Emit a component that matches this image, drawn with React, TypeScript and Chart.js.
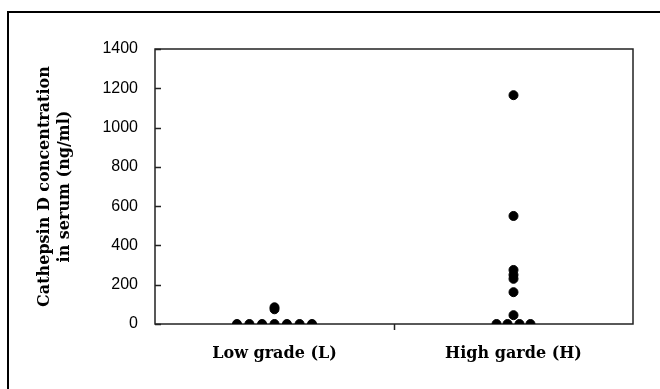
import React, { useEffect, useRef } from "react";
import { Chart, registerables } from "chart.js";

Chart.register(...registerables);

const categories = ["Low grade (L)", "High garde (H)"];
const categoryPositions = [0.5, 1.5];

const lowX = [0.343, 0.395, 0.448, 0.5, 0.552, 0.605, 0.657, 0.5, 0.5];
const lowValues = [0, 0, 0, 0, 0, 0, 0, 75, 85];

const highX = [1.5, 1.5, 1.5, 1.5, 1.5, 1.5, 1.5, 1.429, 1.475, 1.525, 1.571];
const highValues = [1165, 550, 275, 250, 230, 162, 45, 0, 0, 0, 0];

const yTicks = [0, 200, 400, 600, 800, 1000, 1200, 1400];
const yTitle = ["Cathepsin D concentration", "in serum (ng/ml)"];

const serifBold = "'DejaVu Serif', 'Liberation Serif', serif";
const sans = "'Liberation Sans', Arial, sans-serif";

const framePlugin = {
  id: "frame",
  beforeDraw(chart: any) {
    const ctx = chart.ctx;
    ctx.save();
    ctx.fillStyle = "#fff";
    ctx.fillRect(0, 0, chart.width, chart.height);
    ctx.strokeStyle = "#000";
    ctx.lineWidth = 2;
    ctx.beginPath();
    ctx.moveTo(8, chart.height);
    ctx.lineTo(8, 12);
    ctx.lineTo(chart.width, 12);
    ctx.stroke();
    ctx.restore();
  },
  beforeDatasetsDraw(chart: any) {
    const { ctx, chartArea } = chart;
    const y = chart.scales.y;
    const x = chart.scales.x;
    ctx.save();
    ctx.strokeStyle = "#222";
    ctx.lineWidth = 1.5;
    ctx.strokeRect(chartArea.left, chartArea.top, chartArea.right - chartArea.left, chartArea.bottom - chartArea.top);
    ctx.beginPath();
    yTicks.forEach((v) => {
      const py = Math.round(y.getPixelForValue(v)) + 0.5;
      ctx.moveTo(chartArea.left, py);
      ctx.lineTo(chartArea.left + 6, py);
    });
    const px = Math.round(x.getPixelForValue(1)) + 0.5;
    ctx.moveTo(px, chartArea.bottom);
    ctx.lineTo(px, chartArea.bottom + 6);
    ctx.stroke();
    ctx.restore();
  },
};

export default function App() {
  const ref = useRef<HTMLCanvasElement | null>(null);
  useEffect(() => {
    if (!ref.current) return;
    const chart = new Chart(ref.current, {
      type: "scatter",
      data: {
        datasets: [
          {
            label: "Low",
            data: lowValues.map((v, i) => ({ x: lowX[i], y: v })),
            backgroundColor: "#000",
            borderColor: "#000",
            pointRadius: 4.5,
            pointHoverRadius: 4.5,
          },
          {
            label: "High",
            data: highValues.map((v, i) => ({ x: highX[i], y: v })),
            backgroundColor: "#000",
            borderColor: "#000",
            pointRadius: 4.5,
            pointHoverRadius: 4.5,
          },
        ],
      },
      options: {
        animation: false,
        responsive: false,
        events: [],
        layout: { padding: { left: 10, top: 49, right: 27, bottom: 0 } },
        plugins: { legend: { display: false }, tooltip: { enabled: false } },
        scales: {
          x: {
            type: "linear",
            min: 0,
            max: 2,
            afterBuildTicks: (scale: any) => {
              scale.ticks = categoryPositions.map((v) => ({ value: v }));
            },
            afterFit: (scale: any) => {
              scale.height = 389 - 324;
            },
            grid: { display: false, drawTicks: false },
            border: { display: false },
            ticks: {
              padding: 20,
              color: "#000",
              font: { family: serifBold, size: 16, weight: "bold" },
              callback: (v: any) => {
                const i = categoryPositions.indexOf(Number(v));
                return i >= 0 ? categories[i] : "";
              },
            },
          },
          y: {
            min: 0,
            max: 1400,
            afterBuildTicks: (scale: any) => {
              scale.ticks = yTicks.map((v) => ({ value: v }));
            },
            afterFit: (scale: any) => {
              scale.width = 155 - 10;
            },
            grid: { display: false, drawTicks: false },
            border: { display: false },
            ticks: {
              padding: 17,
              color: "#000",
              font: { family: sans, size: 16 },
              callback: (v: any) => String(v),
            },
            title: {
              display: true,
              text: yTitle,
              color: "#000",
              padding: { top: 24, bottom: 0 },
              font: { family: serifBold, size: 16, weight: "bold", lineHeight: 1.3 },
            },
          },
        },
      },
      plugins: [framePlugin],
    });
    return () => chart.destroy();
  }, []);
  return (
    <div style={{ position: "fixed", left: 0, top: 0, width: 660, height: 389, background: "#fff" }}>
      <canvas ref={ref} width={660} height={389} style={{ width: 660, height: 389, display: "block" }} />
    </div>
  );
}
